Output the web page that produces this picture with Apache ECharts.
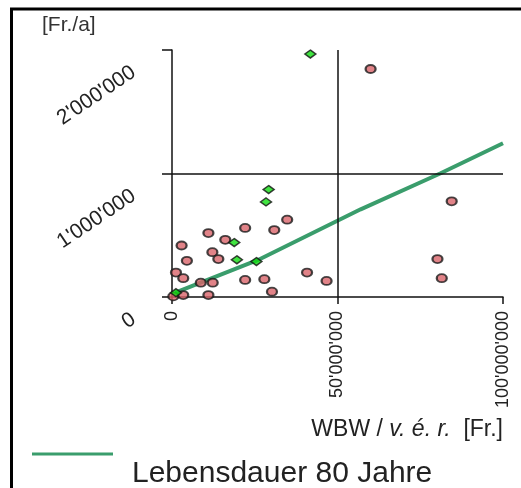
<!DOCTYPE html>
<html>
<head>
<meta charset="utf-8">
<script src="https://cdn.jsdelivr.net/npm/echarts@6/dist/echarts.min.js"></script>
<style>
  html, body { margin: 0; padding: 0; background: #fff; }
  #chart { width: 521px; height: 488px; }
</style>
</head>
<body>
<div id="chart"></div>
<script>
// values in millions of Fr.
const redX = [11.0, 22.1, 16.1, 2.9, 12.2, 14.0, 4.5, 1.2, 3.4, 8.7, 12.3, 22.1, 0.4, 3.4, 11.0, 34.8, 30.9, 27.9, 40.8, 46.7, 30.2, 84.5, 80.2, 81.5, 60.0];
const redY = [0.518, 0.559, 0.463, 0.417, 0.363, 0.307, 0.293, 0.198, 0.152, 0.116, 0.116, 0.138, 0.005, 0.016, 0.016, 0.626, 0.542, 0.144, 0.198, 0.130, 0.043, 0.775, 0.307, 0.152, 1.846];
const greenX = [18.8, 19.6, 25.5, 1.2, 29.2, 28.4, 41.8];
const greenY = [0.441, 0.301, 0.287, 0.035, 0.870, 0.770, 1.967];
const lineX = [1, 26, 57, 81, 100];
const lineY = [0.035, 0.30, 0.71, 1.0, 1.245];
const xTickLabels = ["0", "50'000'000", "100'000'000"];
const yTickLabels = ["0", "1'000'000", "2'000'000"];
const seriesName = 'Lebensdauer 80 Jahre';

const zip = (a, b) => a.map((v, i) => [v, b[i]]);
const font = "'Liberation Sans', Arial, sans-serif";
const ellipse = 'path://M0,10A10,10,0,1,1,20,10A10,10,0,1,1,0,10Z';

const chart = echarts.init(document.getElementById('chart'));
chart.setOption({
  animation: false,
  textStyle: { fontFamily: font },
  title: {
    text: '[Fr./a]', left: 42, top: 15, padding: 0,
    textStyle: { fontFamily: font, fontSize: 21, fontWeight: 'normal', color: '#333' }
  },
  graphic: [{
    type: 'rect', silent: true,
    shape: { x: 11.5, y: 9, width: 700, height: 700 },
    style: { fill: 'none', stroke: '#000', lineWidth: 3 }
  }],
  legend: {
    data: [seriesName], left: 32, top: 414, padding: 0,
    icon: 'rect', itemWidth: 81, itemHeight: 3,
    formatter: name => '\n' + name,
    textStyle: { fontFamily: font, fontSize: 30, lineHeight: 40, color: '#222', padding: [0, 0, 0, 14] }
  },
  grid: { left: 172, top: 50, right: 18, bottom: 191, outerBoundsMode: 'none' },
  xAxis: {
    type: 'value', min: 0, max: 100, interval: 50,
    axisLine: { show: true, lineStyle: { color: '#111', width: 1.5 } },
    axisTick: { show: true, length: 7, lineStyle: { color: '#111', width: 1.5 } },
    splitLine: { show: false },
    axisLabel: {
      rotate: 90, margin: 14, fontSize: 18, color: '#222',
      formatter: (v, i) => xTickLabels[i]
    },
    name: '{n|WBW / }{i|v. é. r.}{n|  [Fr.]}',
    nameLocation: 'end', nameGap: 0,
    nameTextStyle: {
      align: 'right', verticalAlign: 'top', padding: [121, 0, 0, 0],
      rich: {
        n: { fontFamily: font, fontSize: 23, color: '#222' },
        i: { fontFamily: font, fontSize: 23, fontStyle: 'italic', color: '#222' }
      }
    }
  },
  yAxis: {
    type: 'value', min: 0, max: 2, interval: 1,
    axisLine: { show: true, lineStyle: { color: '#111', width: 1.5 } },
    axisTick: { show: true, length: 10, lineStyle: { color: '#111', width: 1.5 } },
    splitLine: { show: false },
    axisLabel: {
      rotate: 34, margin: 52, fontSize: 21, lineHeight: 49, color: '#222',
      formatter: (v, i) => '\n' + yTickLabels[i]
    }
  },
  series: [
    {
      name: seriesName, type: 'line', data: zip(lineX, lineY),
      showSymbol: false, z: 1,
      lineStyle: { color: '#3a9d6c', width: 4 }, itemStyle: { color: '#3a9d6c' }
    },
    {
      name: 'rot', type: 'scatter', data: zip(redX, redY), z: 3,
      symbol: ellipse, symbolSize: [10, 8],
      itemStyle: { color: '#d9646a', borderColor: '#1a1a1a', borderWidth: 2 },
      markLine: {
        silent: true, symbol: ['none', 'none'], label: { show: false },
        lineStyle: { color: '#111', width: 1.5, type: 'solid' },
        data: [{ yAxis: 1 }, { xAxis: 50 }]
      }
    },
    {
      name: 'grün', type: 'scatter', data: zip(greenX, greenY), z: 4,
      symbol: 'diamond', symbolSize: [11, 8],
      itemStyle: { color: '#12dc12', borderColor: '#111', borderWidth: 1.5 }
    }
  ]
});
</script>
</body>
</html>
